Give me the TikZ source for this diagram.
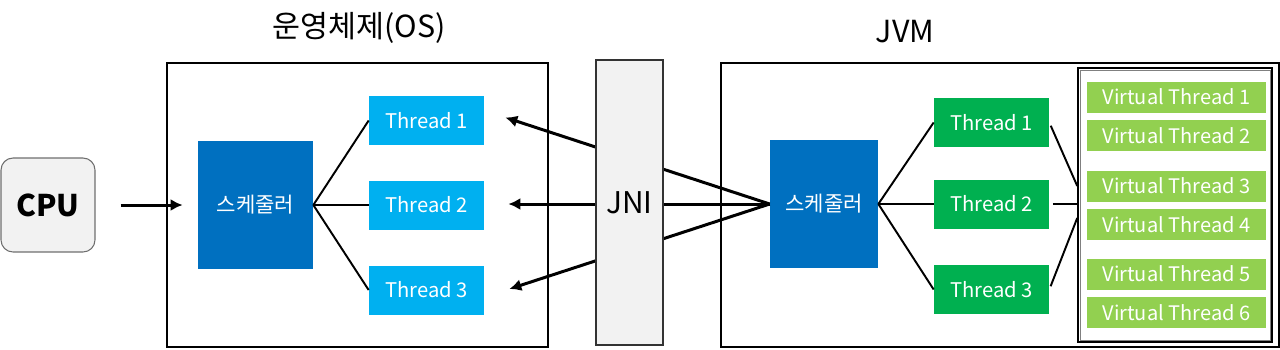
\documentclass[tikz,border=0pt]{standalone}
\usepackage{fontspec}
\setmainfont{Noto Sans CJK KR}
\usetikzlibrary{arrows.meta,positioning}
\definecolor{schedblue}{RGB}{0,112,192}
\definecolor{osblue}{RGB}{0,176,240}
\definecolor{jvmgreen}{RGB}{0,176,80}
\definecolor{vtgreen}{RGB}{146,208,80}
\definecolor{paleGray}{RGB}{242,242,242}
\definecolor{midGray}{RGB}{110,110,110}
\tikzset{
  framebox/.style={draw=black, line width=1pt, inner sep=0pt},
  schedbox/.style={fill=schedblue, text=white, inner sep=0pt,
    minimum height=2.58cm, font=\fontsize{12}{14}\selectfont},
  osthread/.style={fill=osblue, text=white, inner sep=0pt,
    minimum width=2.3cm, minimum height=0.98cm, font=\fontsize{11.5}{14}\selectfont},
  jvmthread/.style={fill=jvmgreen, text=white, inner sep=0pt,
    minimum width=2.3cm, minimum height=0.98cm, font=\fontsize{11.5}{14}\selectfont},
  vthread/.style={fill=vtgreen, text=white, inner sep=0pt,
    minimum width=3.58cm, minimum height=0.62cm, font=\fontsize{11.4}{14}\selectfont},
  titletext/.style={font=\fontsize{17.3}{20}\selectfont, inner sep=0pt},
  link/.style={line width=1.1pt},
  flow/.style={-{Latex[length=2.4mm,width=2.4mm]}, line width=1.7pt}
}
\begin{document}
\begin{tikzpicture}[x=0.02cm, y=-0.02cm]
\useasboundingbox (0,0) rectangle (1280,349);

% CPU
\node[draw=midGray, fill=paleGray, rounded corners=0.24cm, line width=0.6pt,
  minimum width=1.88cm, minimum height=1.88cm,
  font=\fontsize{17}{19}\selectfont\bfseries] (cpu) at (48,205) {CPU};

% OS side
\node[titletext] (ostitle) at (359,28) {운영체제(OS)};
\node[framebox, minimum width=7.62cm, minimum height=5.68cm] (os) at (357.5,205) {};
\node[schedbox, minimum width=2.3cm] (ossched) at (255.5,205) {스케줄러};
\node[osthread] (ost1) at (426.5,120.5) {Thread 1};
\node[osthread] (ost2) at (426.5,205) {Thread 2};
\node[osthread] (ost3) at (426.5,290) {Thread 3};

% JVM side
\node[titletext] (jvmtitle) at (905,32) {JVM};
\node[framebox, minimum width=11.16cm, minimum height=5.68cm] (jvm) at (1000,205) {};
\node[schedbox, minimum width=2.16cm] (jvmsched) at (824,204) {스케줄러};
\node[jvmthread] (jt1) at (991.5,122.5) {Thread 1};
\node[jvmthread] (jt2) at (991.5,204) {Thread 2};
\node[jvmthread] (jt3) at (991.5,289.5) {Thread 3};

% Virtual threads
\node[draw=black, line width=0.9pt, minimum width=3.88cm, minimum height=5.48cm] (vtpool) at (1175,205) {};
\draw[gray, line width=0.5pt] ([shift={(1.6pt,-1.6pt)}]vtpool.north west) rectangle ([shift={(-1.6pt,1.6pt)}]vtpool.south east);
\node[vthread] (vt1) at (1176.5,97) {Virtual Thread 1};
\node[vthread] (vt2) at (1176.5,135.5) {Virtual Thread 2};
\node[vthread] (vt3) at (1176.5,186) {Virtual Thread 3};
\node[vthread] (vt4) at (1176.5,224.5) {Virtual Thread 4};
\node[vthread] (vt5) at (1176.5,274) {Virtual Thread 5};
\node[vthread] (vt6) at (1176.5,312.5) {Virtual Thread 6};

% Connections
\draw[flow, shorten <=0.5cm, shorten >=0.3cm] (cpu.east) -- (ossched.west |- cpu.east);
\draw[link] (ossched.east) -- (ost1.west);
\draw[link] (ossched.east) -- (ost2.west);
\draw[link] (ossched.east) -- (ost3.west);
\draw[link] (jvmsched.east) -- (jt1.west);
\draw[link] (jvmsched.east) -- (jt2.west);
\draw[link] (jvmsched.east) -- (jt3.west);
\draw[link, shorten <=2pt] (jt1.east) -- ([yshift=0.38cm]vtpool.west);
\draw[link, shorten <=2pt] (jt2.east) -- ([yshift=0.02cm]vtpool.west);
\draw[link, shorten <=2pt] (jt3.east) -- ([yshift=-0.26cm]vtpool.west);

% JNI calls, JNI box on top
\draw[flow] (jvmsched.west) -- ([xshift=0.42cm,yshift=0.06cm]ost1.east);
\draw[flow] (jvmsched.west) -- ([xshift=0.48cm,yshift=0.02cm]ost2.east);
\draw[flow] (jvmsched.west) -- ([xshift=0.5cm,yshift=0.02cm]ost3.east);
\node[draw=black!80, fill=paleGray, line width=0.8pt, inner sep=0pt,
  minimum width=1.34cm, minimum height=5.7cm,
  font=\fontsize{17}{19}\selectfont] (jni) at (629.5,202.5) {JNI};
\end{tikzpicture}
\end{document}
